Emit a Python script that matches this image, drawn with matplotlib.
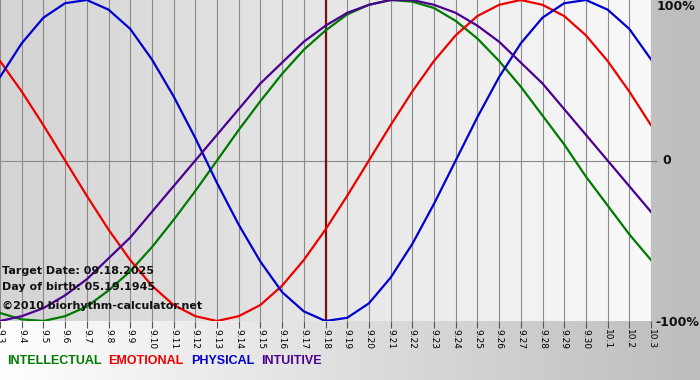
import numpy as np
import matplotlib
matplotlib.use('Agg')
import matplotlib.pyplot as plt
from matplotlib.colors import LinearSegmentedColormap

# 日期刻度 9.3 ~ 10.3
days = ['9.%d' % d for d in range(3, 31)] + ['10.1', '10.2', '10.3']
target_idx = days.index('9.18')

# 各周期的每日数值 (-1 ~ 1)
physical = [0.52, 0.73, 0.89, 0.98, 1.00, 0.94, 0.82, 0.63, 0.40, 0.14, -0.14, -0.40, -0.63, -0.82, -0.94,
            -1.00, -0.98, -0.89, -0.73, -0.52, -0.27, 0.00, 0.27, 0.52, 0.73, 0.89, 0.98, 1.00, 0.94, 0.82, 0.63]
emotional = [0.62, 0.43, 0.22, 0.00, -0.22, -0.43, -0.62, -0.78, -0.90, -0.97, -1.00, -0.97, -0.90, -0.78, -0.62,
             -0.43, -0.22, 0.00, 0.22, 0.43, 0.62, 0.78, 0.90, 0.97, 1.00, 0.97, 0.90, 0.78, 0.62, 0.43, 0.22]
intellectual = [-0.95, -0.99, -1.00, -0.97, -0.91, -0.81, -0.69, -0.54, -0.37, -0.19, 0.00, 0.19, 0.37, 0.54, 0.69,
                0.81, 0.91, 0.97, 1.00, 0.99, 0.95, 0.87, 0.76, 0.62, 0.46, 0.28, 0.10, -0.10, -0.28, -0.46, -0.62]
intuitive = [-1.00, -0.97, -0.92, -0.84, -0.74, -0.61, -0.48, -0.32, -0.16, 0.00, 0.16, 0.32, 0.48, 0.61, 0.74,
             0.84, 0.92, 0.97, 1.00, 1.00, 0.97, 0.92, 0.84, 0.74, 0.61, 0.48, 0.32, 0.16, 0.00, -0.16, -0.32]

series = [
    ('INTELLECTUAL', intellectual, '#007a00'),
    ('EMOTIONAL', emotional, '#ee0000'),
    ('PHYSICAL', physical, '#0000d0'),
    ('INTUITIVE', intuitive, '#4b0090'),
]
info_lines = ['Target Date: 09.18.2025', 'Day of birth: 05.19.1945']
copyright_text = '\u00a92010 biorhythm-calculator.net'

W, H = 700, 380
fig = plt.figure(figsize=(W / 100, H / 100), dpi=100)

# 整体背景：左白右灰
bg = fig.add_axes([0, 0, 1, 1], zorder=-2)
bg_cmap = LinearSegmentedColormap.from_list('bg', ['#ffffff', '#bdbdbd'])
bg.imshow(np.linspace(0, 1, 256).reshape(1, -1), cmap=bg_cmap, aspect='auto', extent=[0, 1, 0, 1])
bg.axis('off')

ax = fig.add_axes([0, 1 - 321 / H, 651 / W, 321 / H])
ax.set_xlim(0, len(days) - 1)
ax.set_ylim(-1, 1)

# 绘图区渐变
plot_cmap = LinearSegmentedColormap.from_list('plot', ['#d4d4d4', '#f9f9f9'])
ax.imshow(np.linspace(0, 1, 256).reshape(1, -1), cmap=plot_cmap, aspect='auto',
          extent=[0, len(days) - 1, -1, 1], zorder=0)

x = np.arange(len(days))
for xi in x:
    ax.axvline(xi, color='#8a8a8a', lw=0.8, zorder=1)
ax.axhline(0, color='#8a8a8a', lw=0.8, zorder=1)
ax.axvline(target_idx, color='#7a1010', lw=1.6, zorder=2)

for name, vals, col in series:
    ax.plot(x, vals, color=col, lw=1.6, zorder=3, solid_joinstyle='round')

for s in ax.spines.values():
    s.set_visible(False)
ax.set_xticks(x)
ax.set_xticklabels(days, rotation=270, fontsize=6.5, family='DejaVu Sans')
ax.tick_params(axis='x', length=5, width=0.8, color='#555555', pad=1)
ax.set_yticks([0])
ax.set_yticklabels([])
ax.tick_params(axis='y', left=False, right=True, length=4, width=0.8, color='#777777')

# 右侧百分比标签
ylab = dict(fontsize=9, fontweight='bold', color='#111111', family='DejaVu Sans', va='center')
fig.text(657 / W, 1 - 7 / H, '100%', ha='left', **ylab)
fig.text(662 / W, 1 - 161 / H, '0', ha='left', **ylab)
fig.text(655 / W, 1 - 322 / H, '-100%', ha='left', **ylab)

# 左下信息文字
txt = dict(fontsize=8, fontweight='bold', color='#111111', family='DejaVu Sans', va='center', ha='left')
fig.text(2 / W, 1 - 271 / H, info_lines[0], **txt)
fig.text(2 / W, 1 - 287 / H, info_lines[1], **txt)
fig.text(2 / W, 1 - 306 / H, copyright_text, **txt)

# 底部图例
lx = 7
for name, vals, col in series:
    t = fig.text(lx / W, 1 - 361 / H, name, color=col, fontsize=9, fontweight='bold',
                 family='Liberation Sans', va='center', ha='left')
    fig.canvas.draw()
    bb = t.get_window_extent()
    lx += bb.width + 7

plt.savefig('out.png', dpi=100)
